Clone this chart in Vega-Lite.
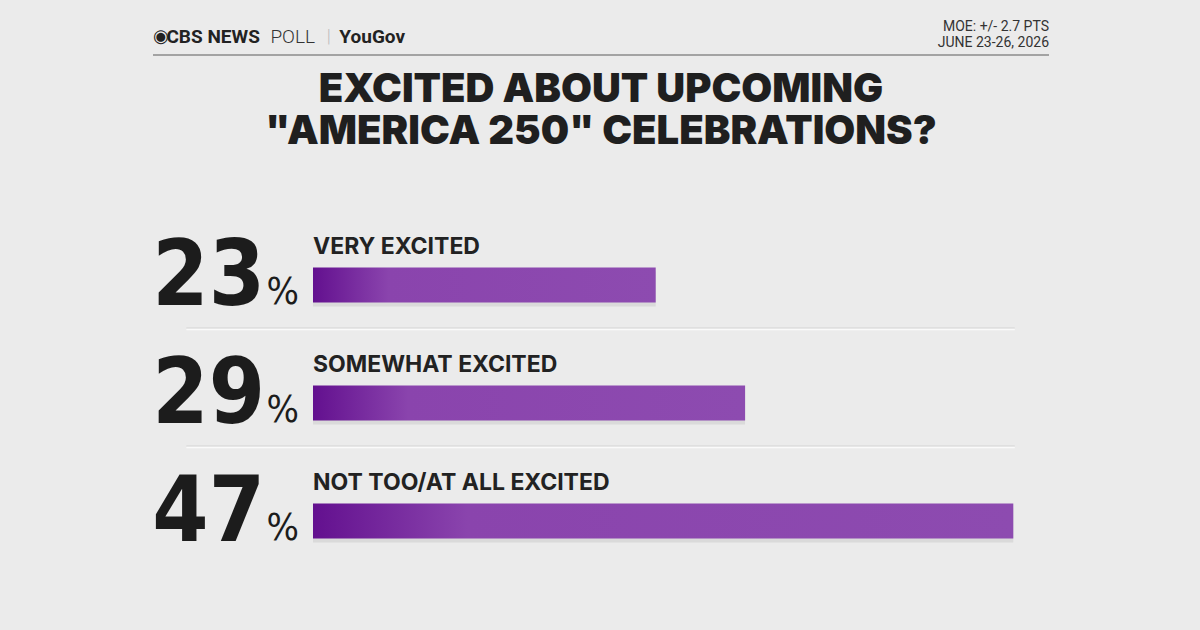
{
  "$schema": "https://vega.github.io/schema/vega-lite/v6.json",
  "background": "#ebebeb",
  "padding": {"left": 152, "top": 15, "right": 152, "bottom": 65},
  "config": {"view": {"stroke": null}},
  "spacing": 14,
  "vconcat": [
    {
      "width": 896,
      "height": 40,
      "data": {"values": [{"label": "header"}]},
      "encoding": {
        "x": {"datum": 0, "type": "quantitative", "scale": {"domain": [0, 100], "nice": false, "padding": 0}, "axis": null},
        "y": {"datum": 0.45, "type": "quantitative", "scale": {"domain": [0, 1], "nice": false, "padding": 0}, "axis": null}
      },
      "layer": [
        {"mark": {"type": "rule", "color": "#a3a3a3", "strokeWidth": 2},
         "encoding": {"x": null, "y": {"datum": 0, "type": "quantitative"}}},
        {"mark": {"type": "text", "text": "◉", "align": "left", "baseline": "middle", "font": "DejaVu Sans", "fontSize": 18, "color": "#222222"}},
        {"mark": {"type": "text", "text": "CBS NEWS", "align": "left", "baseline": "middle", "font": "Roboto", "fontWeight": "bold", "fontSize": 19, "color": "#222222", "letterSpacing": -0.4},
         "encoding": {"x": {"datum": 1.5, "type": "quantitative"}}},
        {"mark": {"type": "text", "text": "POLL", "align": "left", "baseline": "middle", "font": "Roboto", "fontWeight": 300, "fontSize": 19, "color": "#333333"},
         "encoding": {"x": {"datum": 13.1, "type": "quantitative"}}},
        {"mark": {"type": "text", "text": "|", "align": "left", "baseline": "middle", "font": "Roboto", "fontWeight": 300, "fontSize": 18, "color": "#bbbbbb"},
         "encoding": {"x": {"datum": 19.4, "type": "quantitative"}}},
        {"mark": {"type": "text", "text": "YouGov", "align": "left", "baseline": "middle", "font": "Roboto", "fontWeight": "bold", "fontSize": 19, "color": "#222222", "letterSpacing": -0.4},
         "encoding": {"x": {"datum": 20.8, "type": "quantitative"}}},
        {"mark": {"type": "text", "text": ["MOE: +/- 2.7 PTS", "JUNE 23-26, 2026"], "align": "right", "baseline": "middle", "font": "Roboto", "fontSize": 14, "lineHeight": 16, "color": "#333333"},
         "encoding": {"x": {"datum": 100, "type": "quantitative"}, "y": {"datum": 0.7, "type": "quantitative"}}}
      ]
    },
    {
      "width": 896,
      "height": 354,
      "title": {
        "text": ["EXCITED ABOUT UPCOMING", "\"AMERICA 250\" CELEBRATIONS?"],
        "anchor": "middle",
        "font": "Inter",
        "fontSize": 40,
        "fontWeight": 900,
        "lineHeight": 42,
        "color": "#1f1f1f",
        "offset": 59
      },
      "data": {"values": [
        {"response": "VERY EXCITED", "pct": 23, "rank": 1},
        {"response": "SOMEWHAT EXCITED", "pct": 29, "rank": 2},
        {"response": "NOT TOO/AT ALL EXCITED", "pct": 47, "rank": 3}
      ]},
      "encoding": {
        "y": {"field": "rank", "type": "quantitative", "scale": {"domain": [0.5, 3.5], "reverse": true, "nice": false, "zero": false, "padding": 0}, "axis": null}
      },
      "layer": [
        {
          "data": {"values": [{"gap": 1.5}, {"gap": 2.5}]},
          "mark": {"type": "rule", "color": "#d3d3d3", "strokeWidth": 1, "yOffset": -1},
          "encoding": {
            "y": {"field": "gap", "type": "quantitative"},
            "x": {"datum": -8.5, "type": "quantitative", "scale": {"domain": [-10.738, 49.396], "nice": false, "zero": false, "padding": 0}, "axis": null},
            "x2": {"datum": 47.1}
          }
        },
        {
          "data": {"values": [{"gap": 1.5}, {"gap": 2.5}]},
          "mark": {"type": "rule", "color": "#fafafa", "strokeWidth": 1.5, "yOffset": 0.5},
          "encoding": {
            "y": {"field": "gap", "type": "quantitative"},
            "x": {"datum": -8.5, "type": "quantitative"},
            "x2": {"datum": 47.1}
          }
        },
        {
          "mark": {"type": "bar", "orient": "horizontal", "height": 35, "yOffset": 19, "fill": "#000000", "opacity": 0.07},
          "encoding": {
            "x": {"field": "pct", "type": "quantitative", "stack": null}
          }
        },
        {
          "mark": {
            "type": "bar", "orient": "horizontal", "height": 35, "yOffset": 15,
            "fill": {"gradient": "linear", "x1": 0, "y1": 0, "x2": 1, "y2": 0,
              "stops": [
                {"offset": 0, "color": "#63108f"},
                {"offset": 0.22, "color": "#8a44ad"},
                {"offset": 1, "color": "#8d4bb0"}
              ]}
          },
          "encoding": {
            "x": {"field": "pct", "type": "quantitative", "stack": null}
          }
        },
        {
          "mark": {"type": "text", "align": "left", "baseline": "alphabetic", "dy": -16, "font": "Inter", "fontWeight": 700, "fontSize": 23, "color": "#222222"},
          "encoding": {
            "x": {"datum": 0, "type": "quantitative"},
            "text": {"field": "response"}
          }
        },
        {
          "mark": {"type": "text", "align": "right", "baseline": "alphabetic", "dy": 35, "font": "DejaVu Sans Condensed", "fontWeight": "bold", "fontSize": 90, "letterSpacing": -5, "color": "#1c1c1c"},
          "encoding": {
            "x": {"datum": -3.22, "type": "quantitative"},
            "text": {"field": "pct"}
          }
        },
        {
          "mark": {"type": "text", "align": "right", "baseline": "alphabetic", "dy": 34, "font": "DejaVu Sans Condensed", "fontSize": 38, "color": "#1c1c1c", "text": "%"},
          "encoding": {
            "x": {"datum": -0.94, "type": "quantitative"}
          }
        }
      ]
    }
  ]
}
